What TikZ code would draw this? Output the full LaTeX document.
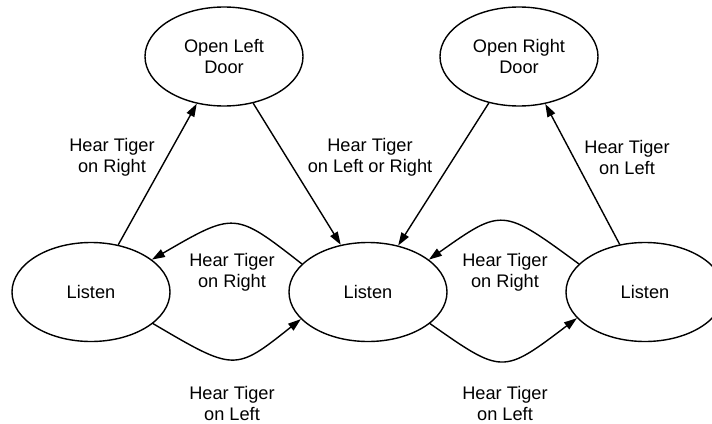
\documentclass[tikz,border=0pt]{standalone}
\usepackage{fontspec}
\setmainfont{Liberation Sans}
\usetikzlibrary{shapes.geometric,arrows.meta}
\begin{document}
\begin{tikzpicture}[x=1pt,y=-1pt,
  state/.style={ellipse,draw,line width=1.4pt,minimum width=158pt,minimum height=99pt,inner sep=0pt,align=center},
  lbl/.style={align=center,inner sep=0pt},
  trans/.style={line width=1.4pt,-{Triangle[length=13pt,width=8.5pt]}},
  every node/.style={font=\fontsize{18.2pt}{21pt}\selectfont}]
\useasboundingbox (0,0) rectangle (712,423);
% states
\node[state] (OL) at (224,56.5) {Open Left\\Door};
\node[state] (OR) at (519,56.5) {Open Right\\Door};
\node[state] (L1) at (91,292) {Listen};
\node[state] (L2) at (368,292) {Listen};
\node[state] (L3) at (645,292) {Listen};
% labels
\node[lbl] (tA) at (112,157) {Hear Tiger\\on Right};
\node[lbl] (tB) at (370,157) {Hear Tiger\\on Left or Right};
\node[lbl] (tC) at (627,157) {Hear Tiger\\on Left};
\node[lbl] (tD) at (232,272) {Hear Tiger\\on Right};
\node[lbl] (tE) at (505,272) {Hear Tiger\\on Right};
\node[lbl] (tF) at (232,403) {Hear Tiger\\on Left};
\node[lbl] (tG) at (505,403) {Hear Tiger\\on Left};
% straight transitions
\draw[trans] (L1.60) -- (OL.240);
\draw[trans] (OL.302) -- (L2.120);
\draw[trans] (OR.237) -- (L2.57);
\draw[trans] (L3.118) -- (OR.299);
% curved transitions between the listen states
\draw[trans] (L2.157) .. controls (234.8,211.5) .. (L1.28);
\draw[trans] (L1.333.4) .. controls (234.8,371.7) .. (L2.202);
\draw[trans] (L3.157) .. controls (502.3,207.7) .. (L2.28.4);
\draw[trans] (L2.333.8) .. controls (502.5,374.5) .. (L3.201);
\end{tikzpicture}
\end{document}
